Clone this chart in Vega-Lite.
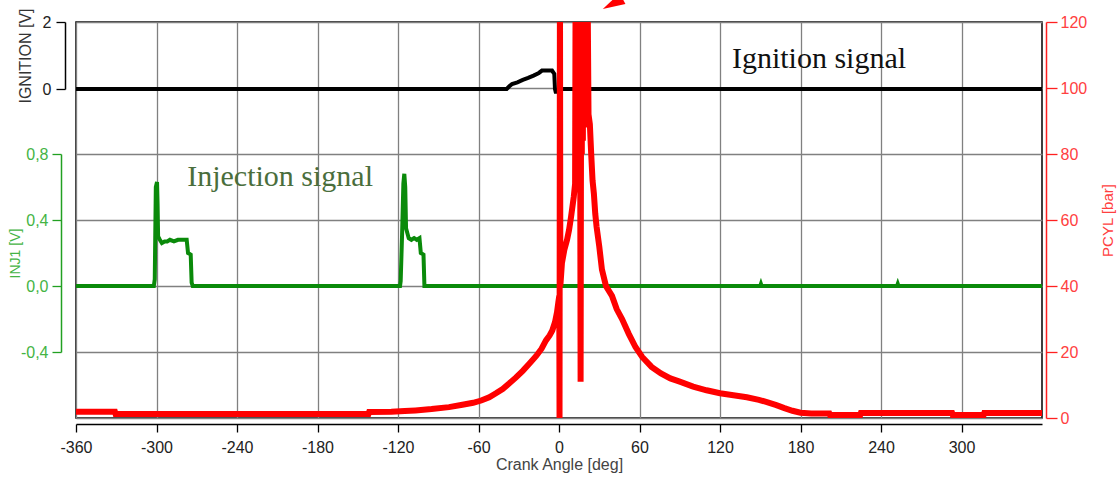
{
  "$schema": "https://vega.github.io/schema/vega-lite/v6.json",
  "autosize": {"type": "none"},
  "padding": {"left": 76, "top": 22, "right": 77, "bottom": 63},
  "width": 966,
  "height": 396,
  "background": "white",
  "config": {
    "view": {"stroke": "black", "strokeWidth": 1.5},
    "font": "Liberation Sans",
    "axis": {"labelFont": "Liberation Sans", "titleFont": "Liberation Sans", "labelFontSize": 16, "titleFontSize": 15, "titleFontWeight": "normal"}
  },
  "datasets": {
    "ign": [
      {"deg": -360, "v": 0}, {"deg": -39, "v": 0}, {"deg": -37, "v": 0.08}, {"deg": -35, "v": 0.15},
      {"deg": -31, "v": 0.2}, {"deg": -27, "v": 0.27}, {"deg": -23, "v": 0.33}, {"deg": -19, "v": 0.4},
      {"deg": -15, "v": 0.48}, {"deg": -12.7, "v": 0.55}, {"deg": -5.2, "v": 0.55}, {"deg": -3.5, "v": 0.45},
      {"deg": -3.0, "v": 0.0}, {"deg": -2.5, "v": -0.08}, {"deg": -1, "v": -0.08}, {"deg": 0, "v": 0}, {"deg": 360, "v": 0}
    ],
    "inj": [
      {"deg": -360, "v": 0}, {"deg": -302, "v": 0}, {"deg": -301.3, "v": 0.04}, {"deg": -300.5, "v": 0.6},
      {"deg": -299.6, "v": 0.63}, {"deg": -299.2, "v": 0.5}, {"deg": -298.8, "v": 0.3}, {"deg": -297.5, "v": 0.28},
      {"deg": -296, "v": 0.26}, {"deg": -294, "v": 0.27}, {"deg": -292, "v": 0.27}, {"deg": -290, "v": 0.28},
      {"deg": -287, "v": 0.27}, {"deg": -284, "v": 0.28}, {"deg": -281, "v": 0.28}, {"deg": -277.5, "v": 0.28},
      {"deg": -276.5, "v": 0.2}, {"deg": -274.5, "v": 0.19}, {"deg": -273.8, "v": 0.02}, {"deg": -273, "v": 0},
      {"deg": -118.5, "v": 0}, {"deg": -118, "v": 0.03}, {"deg": -117, "v": 0.3}, {"deg": -116, "v": 0.62},
      {"deg": -115.3, "v": 0.68}, {"deg": -114.6, "v": 0.6}, {"deg": -114, "v": 0.35}, {"deg": -112, "v": 0.29},
      {"deg": -110, "v": 0.28}, {"deg": -108, "v": 0.29}, {"deg": -106, "v": 0.28}, {"deg": -104, "v": 0.29},
      {"deg": -103, "v": 0.2}, {"deg": -101, "v": 0.19}, {"deg": -100.3, "v": 0},
      {"deg": 150, "v": 0}, {"deg": 150.5, "v": 0.012}, {"deg": 151, "v": 0},
      {"deg": 252, "v": 0}, {"deg": 252.5, "v": 0.012}, {"deg": 253, "v": 0}, {"deg": 360, "v": 0}
    ],
    "pcyl": [
      {"deg": -360, "p": 1.9}, {"deg": -331, "p": 1.9}, {"deg": -330.5, "p": 1.2}, {"deg": -200, "p": 1.2},
      {"deg": -142, "p": 1.2}, {"deg": -141.5, "p": 1.8}, {"deg": -125, "p": 1.9}, {"deg": -115, "p": 2.1},
      {"deg": -107, "p": 2.3}, {"deg": -95, "p": 2.7}, {"deg": -82, "p": 3.3}, {"deg": -72, "p": 4.0},
      {"deg": -64, "p": 4.6}, {"deg": -58, "p": 5.3}, {"deg": -52, "p": 6.3}, {"deg": -47, "p": 7.5},
      {"deg": -42, "p": 8.8}, {"deg": -37, "p": 10.5}, {"deg": -32, "p": 12.3}, {"deg": -27, "p": 14.3},
      {"deg": -22, "p": 16.5}, {"deg": -17, "p": 18.8}, {"deg": -13, "p": 21}, {"deg": -9.7, "p": 23.5},
      {"deg": -7, "p": 25}, {"deg": -5, "p": 26.5}, {"deg": -3, "p": 29}, {"deg": -1.5, "p": 32},
      {"deg": -0.5, "p": 35}, {"deg": 0.2, "p": 37}, {"deg": 0.4, "p": 0}, {"deg": 0.7, "p": 140},
      {"deg": 1.0, "p": 40}, {"deg": 2.2, "p": 47}, {"deg": 4, "p": 51}, {"deg": 6, "p": 54},
      {"deg": 7.5, "p": 57}, {"deg": 9, "p": 61}, {"deg": 11, "p": 67}, {"deg": 12, "p": 71},
      {"deg": 12.4, "p": 135}, {"deg": 12.8, "p": 72}, {"deg": 13.2, "p": 135}, {"deg": 13.6, "p": 78},
      {"deg": 14.0, "p": 135}, {"deg": 14.4, "p": 82}, {"deg": 14.8, "p": 135}, {"deg": 15.2, "p": 85},
      {"deg": 15.6, "p": 135}, {"deg": 16.1, "p": 11}, {"deg": 16.6, "p": 135}, {"deg": 17.0, "p": 80},
      {"deg": 17.4, "p": 135}, {"deg": 17.8, "p": 84}, {"deg": 18.2, "p": 135}, {"deg": 18.6, "p": 88},
      {"deg": 19.0, "p": 135}, {"deg": 19.4, "p": 90}, {"deg": 19.8, "p": 135}, {"deg": 20.2, "p": 95},
      {"deg": 20.6, "p": 135}, {"deg": 21.0, "p": 100}, {"deg": 21.4, "p": 125}, {"deg": 22, "p": 92},
      {"deg": 23, "p": 89}, {"deg": 24, "p": 80}, {"deg": 25, "p": 72}, {"deg": 26, "p": 68},
      {"deg": 27, "p": 62}, {"deg": 28, "p": 58}, {"deg": 30, "p": 52}, {"deg": 32, "p": 45},
      {"deg": 35, "p": 40}, {"deg": 39.5, "p": 37}, {"deg": 43, "p": 33}, {"deg": 47, "p": 30},
      {"deg": 52, "p": 25.5}, {"deg": 57, "p": 21.5}, {"deg": 62, "p": 18.5}, {"deg": 69, "p": 15.5},
      {"deg": 76, "p": 13.5}, {"deg": 83, "p": 12}, {"deg": 90, "p": 11}, {"deg": 100, "p": 9.5},
      {"deg": 110, "p": 8.4}, {"deg": 120, "p": 7.5}, {"deg": 130, "p": 6.9}, {"deg": 140, "p": 6.3},
      {"deg": 149, "p": 5.5}, {"deg": 155, "p": 4.8}, {"deg": 162, "p": 3.9}, {"deg": 168, "p": 3.0},
      {"deg": 174, "p": 2.2}, {"deg": 180, "p": 1.6}, {"deg": 188, "p": 1.4}, {"deg": 201.5, "p": 1.4},
      {"deg": 202, "p": 0.9}, {"deg": 224.5, "p": 0.9}, {"deg": 225, "p": 1.5}, {"deg": 293, "p": 1.5},
      {"deg": 293.5, "p": 0.9}, {"deg": 316.5, "p": 0.9}, {"deg": 317, "p": 1.5}, {"deg": 360, "p": 1.5}
    ],
    "notes": [
      {"deg": 193.8, "p": 106, "text": "Ignition signal", "kind": "ign"},
      {"deg": -207.9, "p": 70.3, "text": "Injection signal", "kind": "inj"}
    ],
    "arrow": [
      {"deg": 40, "p": 125.5}
    ]
  },
  "encoding": {
    "x": {
      "field": "deg", "type": "quantitative",
      "scale": {"domain": [-360, 360], "nice": false, "zero": false},
      "axis": {
        "values": [-360, -300, -240, -180, -120, -60, 0, 60, 120, 180, 240, 300],
        "labelExpr": "'' + datum.value",
        "title": "Crank Angle [deg]", "offset": 6,
        "grid": true, "gridColor": "#808080", "gridWidth": 1.3, "gridOpacity": 1,
        "domainColor": "black", "domainWidth": 1.5, "tickColor": "black", "tickSize": 8, "tickWidth": 1.3,
        "labelColor": "#222", "labelPadding": 7, "labelFlush": false,
        "titleColor": "#444", "titleFontSize": 16, "titlePadding": 1
      }
    }
  },
  "layer": [
    {
      "data": {"name": "notes"},
      "mark": {"type": "text", "font": "Liberation Serif", "fontSize": 30, "align": "center", "baseline": "alphabetic"},
      "encoding": {
        "y": {"field": "p", "type": "quantitative", "scale": {"domain": [0, 120], "nice": false, "zero": false}, "axis": null},
        "text": {"field": "text"},
        "color": {"field": "kind", "type": "nominal", "scale": {"domain": ["ign", "inj"], "range": ["#111111", "#4a6e3c"]}, "legend": null}
      }
    },
    {
      "data": {"name": "ign"},
      "mark": {"type": "line", "color": "black", "strokeWidth": 4, "clip": true},
      "encoding": {
        "y": {
          "field": "v", "type": "quantitative",
          "scale": {"domain": [0, 2], "range": [67, 0], "nice": false, "zero": false},
          "axis": {
            "orient": "left", "offset": 11, "values": [0, 2], "title": "IGNITION [V]", "grid": false,
            "domainColor": "black", "domainWidth": 1.5, "tickColor": "black", "tickWidth": 1.3, "tickSize": 9,
            "labelColor": "#222", "labelPadding": 5, "titleColor": "#333", "titleFontSize": 16, "titlePadding": 9
          }
        }
      }
    },
    {
      "data": {"name": "inj"},
      "mark": {"type": "line", "color": "#0a8a0a", "strokeWidth": 4, "clip": true},
      "encoding": {
        "y": {
          "field": "v", "type": "quantitative",
          "scale": {"domain": [-0.4, 0.8], "range": [330, 132], "nice": false, "zero": false},
          "axis": {
            "orient": "left", "offset": 15, "values": [-0.4, 0, 0.4, 0.8],
            "labelExpr": "replace(replace(format(datum.value, '.1f'), '.', ','), '\u2212', '-')",
            "title": "INJ1 [V]", "grid": false,
            "domainColor": "#22a022", "domainWidth": 1.5, "tickColor": "#22a022", "tickWidth": 1.3, "tickSize": 9,
            "labelColor": "#44b444", "labelPadding": 4, "titleColor": "#44b444", "titleFontSize": 14, "titlePadding": -2
          }
        }
      }
    },
    {
      "data": {"name": "pcyl"},
      "mark": {"type": "line", "color": "#ff0000", "strokeWidth": 6, "clip": true},
      "encoding": {
        "y": {
          "field": "p", "type": "quantitative",
          "scale": {"domain": [0, 120], "nice": false, "zero": false},
          "axis": {
            "orient": "right", "offset": 4, "values": [0, 20, 40, 60, 80, 100, 120],
            "title": "PCYL [bar]", "titleAngle": -90, "titleBaseline": "top", "grid": true,
            "gridColor": "#808080", "gridWidth": 1.3, "gridOpacity": 1,
            "domainColor": "#ff2020", "domainWidth": 1.5, "tickColor": "#ff2020", "tickWidth": 1.3, "tickSize": 11,
            "labelColor": "#ff4040", "labelPadding": 3, "titleColor": "#ff4040", "titleFontSize": 15, "titlePadding": 14
          }
        }
      }
    },
    {
      "data": {"name": "arrow"},
      "mark": {"type": "point", "filled": true, "color": "#ff0000", "opacity": 1, "shape": "M -1 0 L 1 -0.55 L 1 0.55 Z", "angle": -28, "size": 500, "clip": false},
      "encoding": {
        "y": {"field": "p", "type": "quantitative", "scale": {"domain": [0, 120], "nice": false, "zero": false}, "axis": null}
      }
    }
  ],
  "resolve": {"scale": {"y": "independent", "color": "independent"}, "axis": {"y": "independent"}}
}
